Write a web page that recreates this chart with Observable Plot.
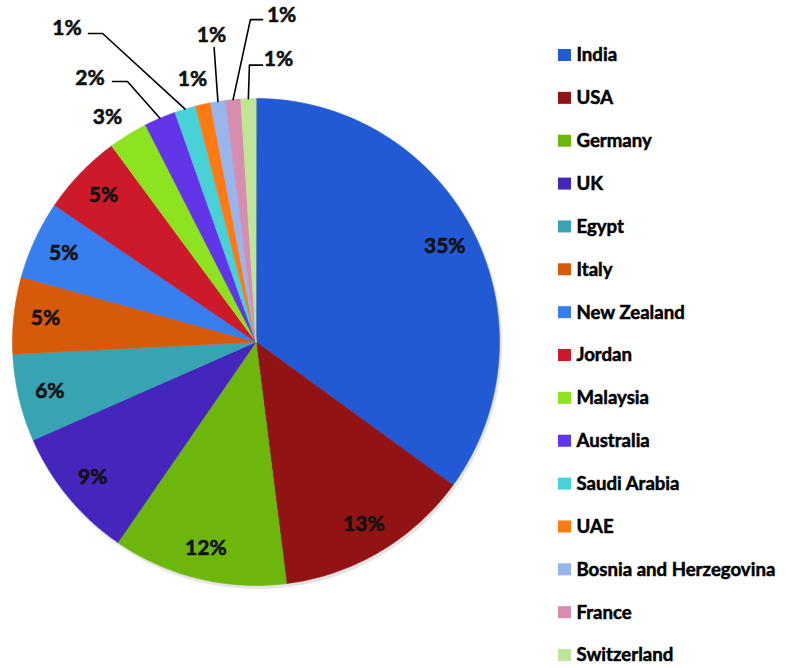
<!DOCTYPE html>
<html>
<head>
<meta charset="utf-8">
<script src="https://cdn.jsdelivr.net/npm/d3@7"></script>
<script src="https://cdn.jsdelivr.net/npm/@observablehq/plot@0.6"></script>
<style>
  html, body { margin: 0; padding: 0; background: #fff; }
  #chart svg { display: block; }
</style>
</head>
<body>
<div id="chart"></div>
<script>
// ---- data ----
const countries = ["India", "USA", "Germany", "UK", "Egypt", "Italy", "New Zealand", "Jordan",
  "Malaysia", "Australia", "Saudi Arabia", "UAE", "Bosnia and Herzegovina", "France", "Switzerland"];
const shares = [35.0, 13.0, 11.6, 8.8, 5.8, 5.1, 5.2, 5.4, 2.6, 2.1, 1.4, 1.0, 1.0, 1.0, 1.0];
const pctLabels = ["35%", "13%", "12%", "9%", "6%", "5%", "5%", "5%", "3%", "2%", "1%", "1%", "1%", "1%", "1%"];
const colors = ["#2259D4", "#921313", "#6DB70C", "#4525BC", "#38A4B3", "#D75A0B", "#387EEE", "#CC1A2A",
  "#8DE31F", "#6236E8", "#48D2D8", "#FF7A12", "#98B5EE", "#D78DAE", "#BFE597"];

// ---- layout ----
const W = 786, H = 668;
const CX = 255.5, CY = 341.5, R = 243.5;
const insideK = 0.87;
// outside label placement (normalized by radius, relative to pie centre)
const outside = {
  "Malaysia":               {lx: -0.610, ly: -0.922},
  "Australia":              {lx: -0.682, ly: -1.082, lead: [[-0.589, -1.070], [-0.528, -1.070]]},
  "Saudi Arabia":           {lx: -0.776, ly: -1.287, lead: [[-0.688, -1.267], [-0.630, -1.267]]},
  "UAE":                    {lx: -0.261, ly: -1.078},
  "Bosnia and Herzegovina": {lx: -0.183, ly: -1.259, lead: [[-0.172, -1.209]]},
  "France":                 {lx: 0.105,  ly: -1.341, lead: [[0.027, -1.324], [-0.023, -1.324]]},
  "Switzerland":            {lx: 0.092,  ly: -1.160, lead: [[0.027, -1.137], [-0.027, -1.137]]}
};
const LEG_X = 558, LEG_Y0 = 55, LEG_DY = 42.86, SW = 13;

// ---- geometry from data ----
const arcs = d3.pie().sort(null).value(d => d)(shares);
const px = a => Math.sin(a), py = a => -Math.cos(a);

const slicePts = [];
arcs.forEach((a, i) => {
  const c = countries[i];
  slicePts.push({country: c, x: CX, y: CY});
  const n = Math.max(2, Math.ceil((a.endAngle - a.startAngle) / (Math.PI / 360)));
  for (let k = 0; k <= n; k++) {
    const t = a.startAngle + (a.endAngle - a.startAngle) * k / n;
    slicePts.push({country: c, x: CX + R * px(t), y: CY + R * py(t)});
  }
});

const labels = arcs.map((a, i) => {
  const c = countries[i];
  const m = (a.startAngle + a.endAngle) / 2;
  const o = outside[c];
  if (o) return {country: c, text: pctLabels[i], x: CX + R * o.lx, y: CY + R * o.ly};
  return {country: c, text: pctLabels[i], x: CX + R * insideK * px(m), y: CY + R * insideK * py(m)};
});

const leaders = [];
arcs.forEach((a, i) => {
  const c = countries[i];
  const o = outside[c];
  if (!o || !o.lead) return;
  const m = (a.startAngle + a.endAngle) / 2;
  o.lead.forEach(([u, v]) => leaders.push({country: c, x: CX + R * u, y: CY + R * v}));
  leaders.push({country: c, x: CX + R * px(m), y: CY + R * py(m)});
});

const legendRows = countries.map((c, i) => ({country: c, y: LEG_Y0 + i * LEG_DY}));

const chart = Plot.plot({
  width: W,
  height: H,
  margin: 0,
  x: {domain: [0, W], range: [0, W], axis: null},
  y: {domain: [0, H], range: [0, H], axis: null},
  color: {domain: countries, range: colors},
  style: {fontFamily: "Lato, 'Open Sans', sans-serif", background: "#fff"},
  marks: [
    // soft shadow
    Plot.dot([0], {x: () => CX + 1.5, y: () => CY + 2.5, r: R + 1, fill: "#000", fillOpacity: 0.10, stroke: "none"}),
    // pie slices
    Plot.line(slicePts, {x: "x", y: "y", z: "country", fill: "country", stroke: "country", strokeWidth: 0.6, curve: "linear-closed"}),
    // leader lines
    Plot.line(leaders, {x: "x", y: "y", z: "country", stroke: "#000", strokeWidth: 1.6}),
    // percentage labels
    Plot.text(labels, {x: "x", y: "y", text: "text", fontSize: 21, fontWeight: "bold", fill: "#111", stroke: "#111", strokeWidth: 0.6}),
    // legend
    Plot.rect(legendRows, {x1: () => LEG_X, x2: () => LEG_X + SW, y1: d => d.y - 6, y2: d => d.y + 6, fill: "country"}),
    Plot.text(legendRows, {x: () => LEG_X + 18, y: "y", text: "country", textAnchor: "start", fontSize: 18.6, fontWeight: "bold", fill: "#000", stroke: "#000", strokeWidth: 0.5})
  ]
});
document.getElementById("chart").appendChild(chart);
</script>
</body>
</html>
